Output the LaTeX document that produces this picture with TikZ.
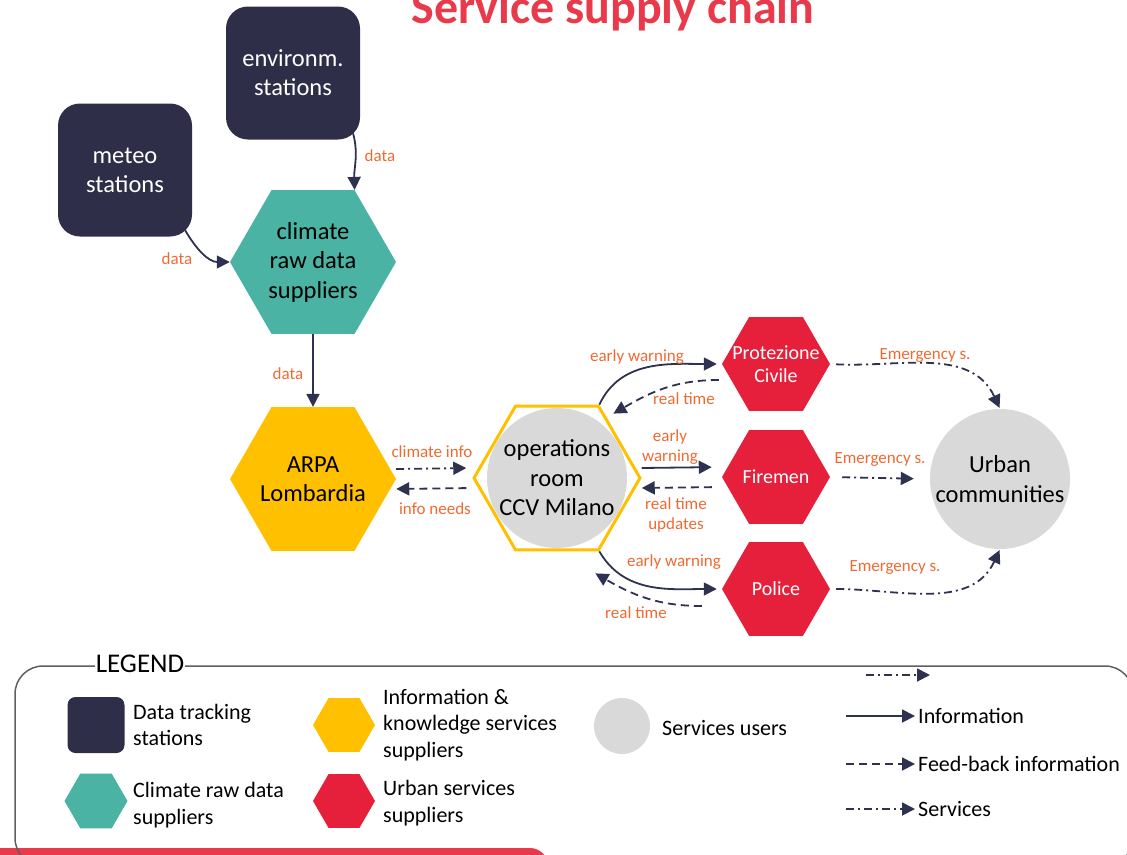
\documentclass[tikz,border=0pt]{standalone}
\usepackage{fontspec}
\setmainfont{Carlito}
\usetikzlibrary{shapes.geometric,arrows.meta}

\definecolor{navybox}{HTML}{2E2E48}
\definecolor{tealhex}{HTML}{4AB3A3}
\definecolor{ambhex}{HTML}{FFC000}
\definecolor{redhex}{HTML}{E6203A}
\definecolor{usergray}{HTML}{D9D9D9}
\definecolor{lineblue}{HTML}{2E3250}
\definecolor{lblorange}{HTML}{EF6A32}
\definecolor{titlered}{HTML}{E93A4C}
\definecolor{framegray}{HTML}{5F5F5F}

\begin{document}
\begin{tikzpicture}[x=1pt,y=-1pt,
  station/.style={fill=navybox,rounded corners=22pt,minimum width=134pt,minimum height=133pt,
    text=white,align=center,inner sep=0pt,font=\fontsize{24.5}{29}\selectfont},
  hexa/.style={regular polygon,regular polygon sides=6,inner sep=0pt},
  rawhex/.style={hexa,fill=tealhex,minimum size=166pt},
  infohex/.style={hexa,fill=ambhex,minimum size=166pt},
  urbanhex/.style={hexa,fill=redhex,minimum size=108pt},
  hextxt/.style={align=center,inner sep=0pt,font=\fontsize{24.5}{29.5}\selectfont},
  urbantxt/.style={align=center,inner sep=0pt,text=white,font=\fontsize{20}{23}\selectfont},
  user/.style={circle,fill=usergray,inner sep=0pt,minimum size=140pt,align=center,font=\fontsize{24.5}{29.5}\selectfont},
  lbl/.style={text=lblorange,align=center,inner sep=0pt,font=\fontsize{17}{20}\selectfont},
  legtxt/.style={anchor=west,align=left,inner sep=0pt,font=\fontsize{22}{26.5}\selectfont},
  info/.style={draw=lineblue,line width=1.8pt,-{Triangle[length=13pt,width=13pt]}},
  feedback/.style={info,dash pattern=on 8pt off 5pt},
  service/.style={info,dash pattern=on 8pt off 4pt on 2pt off 4pt}]

\useasboundingbox (0,0) rectangle (1127,854);
\clip (0,0) rectangle (1127,854);

% title
\node[anchor=base,text=titlered,inner sep=0pt,font=\fontsize{48}{48}\selectfont\bfseries] (title) at (613,23) {Service supply chain};

% stations and suppliers
\node[station] (env) at (293,73) {environm.\\stations};
\node[station] (meteo) at (125,170) {meteo\\stations};
\node[rawhex] (raw) at (313,262) {};
\node[hextxt] (rawT) at (raw) {climate\\raw data\\suppliers};
\node[infohex] (arpa) at (313,479) {};
\node[hextxt] (arpaT) at (arpa) {ARPA\\Lombardia};

% operations room
\node[hexa,draw=ambhex,line width=3pt,fill=white,minimum size=166pt] (ops) at (557,478) {};
\node[user] (opsc) at (557,478) {operations\\room\\CCV Milano};

% urban services
\node[urbanhex] (prot) at (776,364) {};
\node[urbantxt] (protT) at (prot) {Protezione\\Civile};
\node[urbanhex] (fire) at (776,477) {};
\node[urbantxt] (fireT) at (fire) {Firemen};
\node[urbanhex] (police) at (776,589) {};
\node[urbantxt] (policeT) at (police) {Police};
\node[user] (urban) at (1000,479) {Urban\\communities};

% data flows
\draw[info] ([xshift=60pt,yshift=-60pt]env.center) to[out=-75,in=92] (raw.60);
\draw[info] ([xshift=60pt,yshift=-60pt]meteo.center) to[out=-60,in=180] (raw.180);
\draw[info] (raw.270) -- (arpa.90);
\node[lbl] (l1) at (380,156) {data};
\node[lbl] (l2) at (177,259) {data};
\node[lbl] (l3) at (288,374) {data};

% ARPA <-> operations room
\draw[service,shorten >=6pt] ([yshift=10pt]arpa.0) -- ([yshift=10pt]ops.180);
\draw[feedback,shorten <=6pt] ([yshift=-10pt]ops.180) -- ([yshift=-10pt]arpa.0);
\node[lbl] (l4) at (432,452) {climate info};
\node[lbl] (l5) at (435,509) {info needs};

% operations room <-> urban services
\draw[info,shorten >=5pt] (ops.60) to[out=65,in=180] (prot.180);
\draw[feedback] ([xshift=-3pt,yshift=-16pt]prot.180) to[out=180,in=30] ([xshift=14pt,yshift=-9pt]ops.60);
\draw[info,shorten >=10pt] ([yshift=10pt]ops.0) -- ([yshift=10pt]fire.180);
\draw[feedback,shorten <=10pt] ([yshift=-10pt]fire.180) -- ([yshift=-10pt]ops.0);
\draw[info,shorten >=5pt] (ops.-60) to[out=-60,in=180] (police.180);
\draw[feedback] ([xshift=-20pt,yshift=-17pt]police.180) to[out=180,in=-30] ([xshift=-4pt,yshift=-22pt]ops.-60);
\node[lbl] (l6) at (637,357) {early warning};
\node[lbl] (l7) at (684,399) {real time};
\node[lbl] (l8) at (670,447) {early\\warning};
\node[lbl] (l9) at (676,515) {real time\\updates};
\node[lbl] (l10) at (674,562) {early warning};
\node[lbl] (l11) at (636,613) {real time};

% emergency services
\draw[service,shorten <=6pt,shorten >=1pt] (prot.0) to[out=-3,in=115] (urban.90);
\draw[service,shorten <=12pt,shorten >=16pt] (fire.0) -- (urban.180);
\draw[service,shorten <=6pt,shorten >=1pt] (police.0) to[out=0,in=-115] (urban.-90);
\node[lbl] (l12) at (925,356) {Emergency s.};
\node[lbl] (l13) at (880,460) {Emergency s.};
\node[lbl] (l14) at (895,567) {Emergency s.};

% legend
\fill[titlered,rounded corners=18pt] (-20,848) rectangle (548,880);
\draw[framegray,line width=1.5pt,rounded corners=28pt] (15,666) rectangle (1133,866);
\node[fill=white,inner sep=1pt,font=\fontsize{27}{27}\selectfont] (legend) at (140,664) {LEGEND};

\node[station,minimum width=57pt,minimum height=56pt,rounded corners=8pt] (kstat) at (96,725) {};
\node[hexa,fill=tealhex,minimum size=63pt] (kraw) at (96,801) {};
\node[hexa,fill=ambhex,minimum size=62pt] (kinfo) at (344,725) {};
\node[hexa,fill=redhex,minimum size=62pt] (kurban) at (344,801) {};
\node[circle,fill=usergray,minimum size=56pt] (kuser) at (622,726) {};
\node[legtxt] (tstat) at (133,725) {Data tracking\\stations};
\node[legtxt] (traw) at (133,805) {Climate raw data\\suppliers};
\node[legtxt] (tinfo) at (383,725) {Information \&\\knowledge services\\suppliers};
\node[legtxt] (turban) at (383,803) {Urban services\\suppliers};
\node[legtxt] (tuser) at (662,728) {Services users};

\coordinate (ka) at (866,675);
\coordinate (kb) at (930,675);
\draw[service] (ka) -- (kb);
\node[legtxt] (tinf) at (918,716) {Information};
\node[legtxt] (tfb) at (918,764) {Feed-back information};
\node[legtxt] (tsv) at (918,809) {Services};
\coordinate (k1) at (846,716);
\coordinate (k2) at (846,764);
\coordinate (k3) at (846,809);
\draw[info,shorten >=3pt] (k1) -- (tinf.west);
\draw[feedback,shorten >=3pt] (k2) -- (tfb.west);
\draw[service,shorten >=3pt] (k3) -- (tsv.west);
\end{tikzpicture}
\end{document}
